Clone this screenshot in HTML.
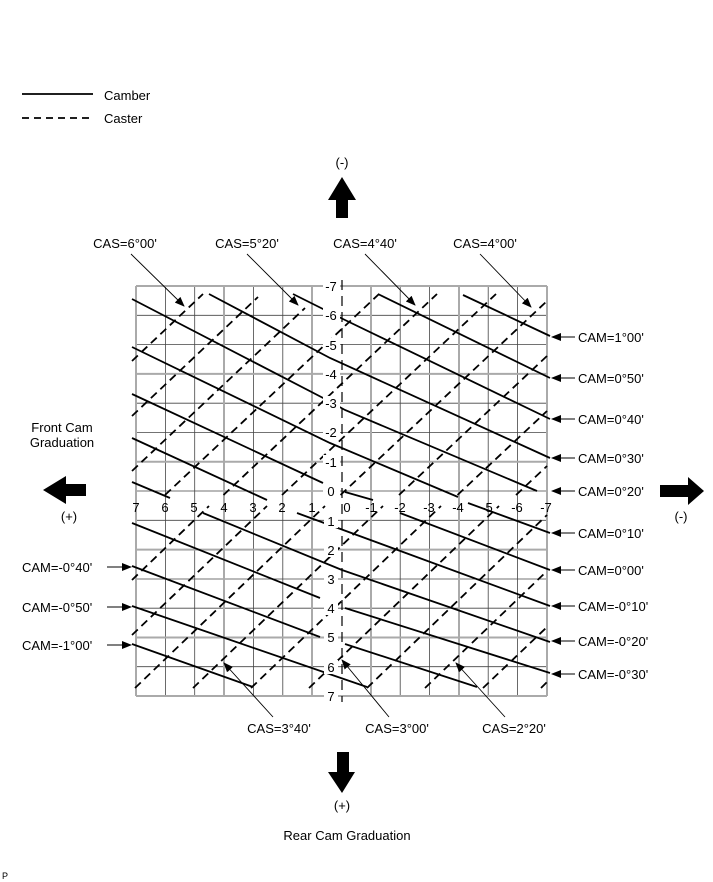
<!DOCTYPE html>
<html><head><meta charset="utf-8"><style>
html,body{margin:0;padding:0;background:#fff;}
svg{display:block;font-family:"Liberation Sans",Arial,sans-serif;}
</style></head><body>
<svg width="713" height="882" viewBox="0 0 713 882" xmlns="http://www.w3.org/2000/svg">
<defs>
<marker id="ah" markerWidth="10" markerHeight="8" refX="9" refY="4" orient="auto" markerUnits="userSpaceOnUse">
<path d="M0,0 L10,4 L0,8 z" fill="#000"/></marker>
</defs>
<rect width="713" height="882" fill="#fff"/>
<!-- legend -->
<line x1="22" y1="94" x2="93" y2="94" stroke="#000" stroke-width="1.8"/>
<text x="104" y="100" font-size="13">Camber</text>
<line x1="22" y1="118" x2="93" y2="118" stroke="#000" stroke-width="1.8" stroke-dasharray="7,5"/>
<text x="104" y="123" font-size="13">Caster</text>

<!-- grid -->
<g stroke="#444" stroke-width="0.8">
<line x1="165.4" y1="286" x2="165.4" y2="696"/>
<line x1="194.7" y1="286" x2="194.7" y2="696"/>
<line x1="253.4" y1="286" x2="253.4" y2="696"/>
<line x1="282.8" y1="286" x2="282.8" y2="696"/>
<line x1="400.2" y1="286" x2="400.2" y2="696"/>
<line x1="429.5" y1="286" x2="429.5" y2="696"/>
<line x1="488.2" y1="286" x2="488.2" y2="696"/>
<line x1="517.6" y1="286" x2="517.6" y2="696"/>
<line x1="136" y1="315.3" x2="547" y2="315.3"/>
<line x1="136" y1="344.6" x2="547" y2="344.6"/>
<line x1="136" y1="403.2" x2="547" y2="403.2"/>
<line x1="136" y1="432.5" x2="547" y2="432.5"/>
<line x1="136" y1="491" x2="547" y2="491"/>
<line x1="136" y1="520.3" x2="547" y2="520.3"/>
<line x1="136" y1="579" x2="547" y2="579"/>
<line x1="136" y1="608.2" x2="547" y2="608.2"/>
<line x1="136" y1="666.7" x2="547" y2="666.7"/>
</g>
<g stroke="#aaa" stroke-width="2">
<line x1="136" y1="286" x2="136" y2="696"/>
<line x1="224" y1="286" x2="224" y2="696"/>
<line x1="312" y1="286" x2="312" y2="696"/>
<line x1="371" y1="286" x2="371" y2="696"/>
<line x1="459" y1="286" x2="459" y2="696"/>
<line x1="547" y1="286" x2="547" y2="696"/>
<line x1="136" y1="286" x2="547" y2="286"/>
<line x1="136" y1="373.9" x2="547" y2="373.9"/>
<line x1="136" y1="461.8" x2="547" y2="461.8"/>
<line x1="136" y1="549.6" x2="547" y2="549.6"/>
<line x1="136" y1="637.5" x2="547" y2="637.5"/>
<line x1="136" y1="696" x2="547" y2="696"/>
</g>
<!-- center dashed axis -->
<line x1="342" y1="280" x2="342" y2="702" stroke="#000" stroke-width="1.2" stroke-dasharray="10,6"/>

<!-- caster (dashed) -->
<g stroke="#000" stroke-width="1.8" stroke-dasharray="8,5" fill="none">
<line x1="132" y1="361" x2="203" y2="294"/>
<line x1="132" y1="416" x2="258" y2="297"/>
<line x1="132" y1="471" x2="305" y2="308"/>
<line x1="165" y1="495" x2="379" y2="294"/>
<line x1="223.5" y1="495" x2="437" y2="294"/>
<line x1="282" y1="495" x2="496" y2="294"/>
<line x1="340.5" y1="495" x2="547" y2="301"/>
<line x1="399" y1="495" x2="547" y2="356"/>
<line x1="457.5" y1="495" x2="547" y2="411"/>
<line x1="516" y1="495" x2="547" y2="466"/>
<line x1="132" y1="580" x2="209" y2="506"/>
<line x1="132" y1="635" x2="267" y2="506"/>
<line x1="135" y1="688" x2="325" y2="506"/>
<line x1="193" y1="688" x2="383" y2="506"/>
<line x1="251" y1="688" x2="441" y2="506"/>
<line x1="309" y1="688" x2="499" y2="506"/>
<line x1="367" y1="688" x2="547" y2="515"/>
<line x1="425" y1="688" x2="547" y2="571"/>
<line x1="483" y1="688" x2="547" y2="627"/>
<line x1="541" y1="688" x2="547" y2="682"/>
</g>

<!-- camber (solid) -->
<g stroke="#000" stroke-width="1.8" fill="none">
<polyline points="463,295 550,336"/>
<polyline points="378,294 550,378"/>
<polyline points="293,294 345,320 550,419"/>
<polyline points="209,294 330,358 550,458"/>
<polyline points="132,299 327,400 345,410 537,491"/>
<polyline points="132,347 330,443 458,497"/>
<polyline points="468,503 550,533"/>
<polyline points="132,394 323,483"/>
<polyline points="345,492 373,500"/>
<polyline points="400,513 550,570"/>
<polyline points="132,438 267,500"/>
<polyline points="297,513 550,606"/>
<polyline points="132,482 170,498"/>
<polyline points="203,513 342,570 550,642"/>
<polyline points="132,523 320,598"/>
<polyline points="345,608 550,673"/>
<polyline points="132,566 320,637"/>
<polyline points="345,644 477,687"/>
<polyline points="132,606 367,687"/>
<polyline points="132,644 253,687"/>
</g>

<!-- center axis labels -->
<g font-size="13" text-anchor="middle">
<g fill="#fff">
<rect x="323" y="279" width="17" height="14"/><rect x="323" y="308" width="17" height="14"/>
<rect x="323" y="338" width="17" height="14"/><rect x="323" y="367" width="17" height="14"/>
<rect x="323" y="396" width="17" height="14"/><rect x="323" y="425" width="17" height="14"/>
<rect x="323" y="455" width="17" height="14"/><rect x="323" y="484" width="17" height="14"/>
<rect x="324" y="514" width="14" height="14"/><rect x="324" y="543" width="14" height="14"/>
<rect x="324" y="572" width="14" height="14"/><rect x="324" y="601" width="14" height="14"/>
<rect x="324" y="630" width="14" height="14"/><rect x="324" y="660" width="14" height="14"/>
<rect x="324" y="689" width="14" height="14"/>
</g>
<text x="331" y="291">-7</text><text x="331" y="320">-6</text><text x="331" y="350">-5</text>
<text x="331" y="379">-4</text><text x="331" y="408">-3</text><text x="331" y="437">-2</text>
<text x="331" y="467">-1</text><text x="331" y="496">0</text>
<text x="331" y="526">1</text><text x="331" y="555">2</text><text x="331" y="584">3</text>
<text x="331" y="613">4</text><text x="331" y="642">5</text><text x="331" y="672">6</text>
<text x="331" y="701">7</text>
<!-- horizontal axis row -->
<text x="136" y="512">7</text><text x="165" y="512">6</text><text x="194" y="512">5</text>
<text x="224" y="512">4</text><text x="253" y="512">3</text><text x="282" y="512">2</text>
<text x="312" y="512">1</text><text x="347" y="512">0</text><text x="371" y="512">-1</text>
<text x="400" y="512">-2</text><text x="429" y="512">-3</text><text x="458" y="512">-4</text>
<text x="487" y="512">-5</text><text x="517" y="512">-6</text><text x="546" y="512">-7</text>
</g>

<!-- CAS labels and leaders -->
<g font-size="13" text-anchor="middle">
<text x="125" y="248">CAS=6°00'</text>
<text x="247" y="248">CAS=5°20'</text>
<text x="365" y="248">CAS=4°40'</text>
<text x="485" y="248">CAS=4°00'</text>
<text x="279" y="733">CAS=3°40'</text>
<text x="397" y="733">CAS=3°00'</text>
<text x="514" y="733">CAS=2°20'</text>
</g>
<g stroke="#000" stroke-width="0.9" marker-end="url(#ah)">
<line x1="131" y1="254" x2="184" y2="306"/>
<line x1="247" y1="254" x2="298" y2="305"/>
<line x1="365" y1="254" x2="415" y2="305"/>
<line x1="480" y1="254" x2="531" y2="307"/>
<line x1="273" y1="717" x2="224" y2="663"/>
<line x1="389" y1="717" x2="342" y2="660"/>
<line x1="505" y1="717" x2="456" y2="663"/>
</g>

<!-- CAM labels right -->
<g font-size="13">
<text x="578" y="342">CAM=1°00'</text>
<text x="578" y="383">CAM=0°50'</text>
<text x="578" y="424">CAM=0°40'</text>
<text x="578" y="463">CAM=0°30'</text>
<text x="578" y="496">CAM=0°20'</text>
<text x="578" y="538">CAM=0°10'</text>
<text x="578" y="575">CAM=0°00'</text>
<text x="578" y="611">CAM=-0°10'</text>
<text x="578" y="646">CAM=-0°20'</text>
<text x="578" y="679">CAM=-0°30'</text>
<text x="22" y="572">CAM=-0°40'</text>
<text x="22" y="612">CAM=-0°50'</text>
<text x="22" y="650">CAM=-1°00'</text>
</g>
<g stroke="#000" stroke-width="1" marker-end="url(#ah)">
<line x1="575" y1="337" x2="552" y2="337"/>
<line x1="575" y1="378" x2="552" y2="378"/>
<line x1="575" y1="419" x2="552" y2="419"/>
<line x1="575" y1="458" x2="552" y2="458"/>
<line x1="575" y1="491" x2="552" y2="491"/>
<line x1="575" y1="533" x2="552" y2="533"/>
<line x1="575" y1="570" x2="552" y2="570"/>
<line x1="575" y1="606" x2="552" y2="606"/>
<line x1="575" y1="641" x2="552" y2="641"/>
<line x1="575" y1="674" x2="552" y2="674"/>
<line x1="107" y1="567" x2="131" y2="567"/>
<line x1="107" y1="607" x2="131" y2="607"/>
<line x1="107" y1="645" x2="131" y2="645"/>
</g>

<!-- big arrows -->
<text x="342" y="167" font-size="13" text-anchor="middle">(-)</text>
<polygon points="342,177 328,200 336,200 336,218 348,218 348,200 356,200" fill="#000"/>
<text x="62" y="432" font-size="13" text-anchor="middle">Front Cam</text>
<text x="62" y="447" font-size="13" text-anchor="middle">Graduation</text>
<polygon points="43,490 66,476 66,484 86,484 86,496 66,496 66,504" fill="#000"/>
<text x="69" y="521" font-size="13" text-anchor="middle">(+)</text>
<polygon points="704,491 688,477 688,485 660,485 660,497 688,497 688,505" fill="#000"/>
<text x="681" y="521" font-size="13" text-anchor="middle">(-)</text>
<polygon points="342,793 328,772 337,772 337,752 349,752 349,772 355,772" fill="#000"/>
<text x="342" y="810" font-size="13" text-anchor="middle">(+)</text>
<text x="347" y="840" font-size="13" text-anchor="middle">Rear Cam Graduation</text>
<text x="2" y="879" font-size="9">P</text>
</svg>
</body></html>
